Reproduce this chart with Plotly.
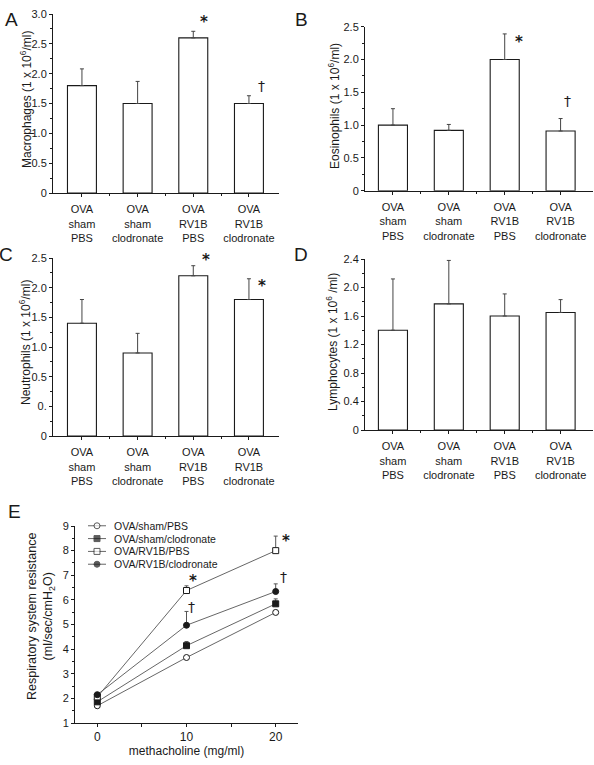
import plotly.graph_objects as go

W, H = 594, 765
FONT = "Liberation Sans, Arial, sans-serif"
INK = "#1a1a1a"

# ---------------- data ----------------
groups = ["OVA<br>sham<br>PBS", "OVA<br>sham<br>clodronate",
          "OVA<br>RV1B<br>PBS", "OVA<br>RV1B<br>clodronate"]

macrophages = [1.80, 1.50, 2.60, 1.50]
macrophages_err = [0.28, 0.37, 0.11, 0.13]

eosinophils = [1.00, 0.92, 2.00, 0.91]
eosinophils_err = [0.25, 0.09, 0.39, 0.19]

# neutrophil values read against the printed tick labels (axis baseline printed "0" sits at -0.5)
neutrophils = [1.40, 0.90, 2.20, 1.80]
neutrophils_err = [0.40, 0.33, 0.17, 0.35]
neutro_ticktext = ["0", "0.", "0.5", "1.0", "1.5", "2.0", "2.5"]
neutro_tickvals = [-0.5, 0.0, 0.5, 1.0, 1.5, 2.0, 2.5]
neutro_base = -0.5

lymphocytes = [1.40, 1.77, 1.60, 1.65]
lymphocytes_err = [0.72, 0.61, 0.31, 0.18]

methacholine = [0, 10, 20]
series_names = ["OVA/sham/PBS", "OVA/sham/clodronate", "OVA/RV1B/PBS", "OVA/RV1B/clodronate"]
resistance = {
    "OVA/sham/PBS": [1.70, 3.66, 5.49],
    "OVA/sham/clodronate": [1.86, 4.14, 5.84],
    "OVA/RV1B/PBS": [2.06, 6.38, 8.00],
    "OVA/RV1B/clodronate": [2.15, 4.97, 6.34],
}
resistance_err = {
    "OVA/sham/PBS": [0.05, 0.08, 0.08],
    "OVA/sham/clodronate": [0.06, 0.17, 0.20],
    "OVA/RV1B/PBS": [0.08, 0.19, 0.59],
    "OVA/RV1B/clodronate": [0.06, 0.56, 0.31],
}
marker_styles = {
    "OVA/sham/PBS": ("circle", "white"),
    "OVA/sham/clodronate": ("square", INK),
    "OVA/RV1B/PBS": ("square", "white"),
    "OVA/RV1B/clodronate": ("circle", INK),
}

# ---------------- helpers ----------------
def xd(a, b):
    return [a / W, b / W]

def yd(top, bottom):
    return [1 - bottom / H, 1 - top / H]

fig = go.Figure()

def add_bars(vals, errs, xa, ya, base=None):
    kw = {}
    yvals = vals
    if base is not None:
        yvals = [v - base for v in vals]
        kw["base"] = base
    fig.add_trace(go.Bar(
        x=list(range(len(vals))), y=yvals, width=0.52,
        marker=dict(color="white", line=dict(color=INK, width=1.1)),
        error_y=dict(type="data", array=errs, arrayminus=[0] * len(errs),
                     symmetric=False, color="#444", thickness=1, width=2),
        xaxis=xa, yaxis=ya, showlegend=False, hoverinfo="skip", **kw))

add_bars(macrophages, macrophages_err, "x", "y")
add_bars(eosinophils, eosinophils_err, "x2", "y2")
add_bars(neutrophils, neutrophils_err, "x3", "y3", base=neutro_base)
add_bars(lymphocytes, lymphocytes_err, "x4", "y4")

# panel E lines
for name in series_names:
    sym, fill = marker_styles[name]
    fig.add_trace(go.Scatter(
        x=methacholine, y=resistance[name], mode="lines+markers", name=name,
        line=dict(color="#555", width=0.9),
        marker=dict(symbol=sym, size=6, color=fill, line=dict(color=INK, width=1)),
        error_y=dict(type="data", array=resistance_err[name],
                     arrayminus=[0] * 3, symmetric=False,
                     color="#555", thickness=1, width=2),
        xaxis="x5", yaxis="y5", showlegend=False, hoverinfo="skip"))

# manual compact legend (legend axis uses the entry index as its scale)
for i, name in enumerate(series_names):
    sym, fill = marker_styles[name]
    fig.add_trace(go.Scatter(
        x=[0, 0.5, 1], y=[i, i, i], mode="lines+markers",
        line=dict(color="#555", width=0.9),
        marker=dict(symbol=sym, size=[0, 6, 0], color=fill,
                    line=dict(color=INK, width=[0, 1, 0])),
        xaxis="x6", yaxis="y6", showlegend=False, hoverinfo="skip"))

TICK_SIZE = 11
tickfont = dict(family=FONT, size=TICK_SIZE, color=INK)

def bar_xaxis(dom, rng, anchor):
    return dict(domain=dom, range=rng, tickvals=[0, 1, 2, 3], ticktext=groups, anchor=anchor,
                showline=True, linecolor=INK, linewidth=1, ticks="outside",
                ticklen=3, tickcolor=INK, tickfont=tickfont, ticklabelstandoff=3,
                minor=dict(tickvals=[0.5, 1.5, 2.5], ticklen=2, tickcolor=INK, ticks="outside"),
                showgrid=False, zeroline=False, fixedrange=True)

def bar_yaxis(dom, rng, tickvals, ticktext, minor_dtick, minor_tick0, anchor):
    return dict(domain=dom, range=rng, tickvals=tickvals, ticktext=ticktext,
                showline=True, linecolor=INK, linewidth=1, ticks="outside",
                ticklen=3, tickcolor=INK, tickfont=tickfont,
                minor=dict(dtick=minor_dtick, tick0=minor_tick0, ticklen=2, tickcolor=INK, ticks="outside"),
                showgrid=False, zeroline=False, anchor=anchor, fixedrange=True)

fig.update_layout(
    width=W, height=H, margin=dict(l=0, r=0, t=0, b=0, autoexpand=False),
    paper_bgcolor="white", plot_bgcolor="white",
    font=dict(family=FONT, color=INK),
    xaxis=bar_xaxis(xd(53, 279), [-0.52, 3.54], "y"),
    yaxis=bar_yaxis(yd(14, 193), [0, 3.0], [0, 0.5, 1.0, 1.5, 2.0, 2.5, 3.0],
                    ["0", "0.5", "1.0", "1.5", "2.0", "2.5", "3.0"], 0.25, 0, "x"),
    xaxis2=bar_xaxis(xd(365, 593), [-0.5, 3.58], "y2"),
    yaxis2=bar_yaxis(yd(26.7, 190.7), [0, 2.5], [0, 0.5, 1.0, 1.5, 2.0, 2.5],
                     ["0", "0.5", "1.0", "1.5", "2.0", "2.5"], 0.25, 0, "x2"),
    xaxis3=bar_xaxis(xd(53, 279), [-0.52, 3.54], "y3"),
    yaxis3=bar_yaxis(yd(258, 436), [-0.5, 2.5], neutro_tickvals, neutro_ticktext, 0.25, -0.5, "x3"),
    xaxis4=bar_xaxis(xd(365, 593), [-0.5, 3.58], "y4"),
    yaxis4=bar_yaxis(yd(259, 430), [0, 2.4], [0, 0.4, 0.8, 1.2, 1.6, 2.0, 2.4],
                     ["0", "0.4", "0.8", "1.2", "1.6", "2.0", "2.4"], 0.2, 0, "x4"),
    xaxis5=dict(domain=xd(75, 298), range=[-2.5, 22.5], anchor="y5",
                tickvals=[0, 10, 20], showline=True, linecolor=INK, linewidth=1,
                ticks="outside", ticklen=3, tickcolor=INK,
                tickfont=dict(family=FONT, size=12, color=INK),
                minor=dict(dtick=5, tick0=0, ticklen=3, tickcolor=INK, ticks="outside"),
                showgrid=False, zeroline=False, fixedrange=True,
                title=dict(text="methacholine (mg/ml)",
                           font=dict(family=FONT, size=12, color=INK), standoff=3)),
    yaxis5=dict(domain=yd(526, 723), range=[1, 9], anchor="x5",
                tickvals=list(range(1, 10)), showline=True, linecolor=INK, linewidth=1,
                ticks="outside", ticklen=3, tickcolor=INK, tickfont=tickfont,
                minor=dict(dtick=0.5, tick0=1, ticklen=2, tickcolor=INK, ticks="outside"),
                showgrid=False, zeroline=False, fixedrange=True),
    xaxis6=dict(domain=xd(88, 106), range=[0, 1], anchor="y6", visible=False, fixedrange=True),
    yaxis6=dict(domain=yd(520, 570), range=[3.45, -0.45], anchor="x6", visible=False, fixedrange=True),
)

ann = []
# legend text
for i, name in enumerate(series_names):
    ann.append(dict(text=name, x=1, y=i, xref="x6", yref="y6", xanchor="left", yanchor="middle",
                    xshift=6, showarrow=False, font=dict(family=FONT, size=10.5, color=INK)))

# y-axis titles
ytitle_font = dict(family=FONT, size=12, color=INK)
for txt, px, py in [
    ("Macrophages (1 x 10<sup>6</sup>/ml)", 26, 100),
    ("Eosinophils (1 x 10<sup>6</sup>/ml)", 334, 106),
    ("Neutrophils (1 x 10<sup>6</sup>/ml)", 25, 343),
    ("Lymphocytes (1 x 10<sup>6</sup> /ml)", 332, 342),
]:
    ann.append(dict(text=txt, x=px / W, y=1 - py / H, xref="paper", yref="paper",
                    xanchor="center", yanchor="middle",
                    textangle=-90, showarrow=False, font=ytitle_font))
ann.append(dict(text="Respiratory system resistance<br>(ml/sec/cmH<sub>2</sub>O)",
                x=41 / W, y=1 - 617 / H, xref="paper", yref="paper",
                xanchor="center", yanchor="middle",
                textangle=-90, showarrow=False, font=dict(family=FONT, size=12.5, color=INK)))

# panel letters
for L, px, py in [("A", 11, 19), ("B", 301, 19), ("C", 6, 255), ("D", 301, 255), ("E", 14, 512)]:
    ann.append(dict(text=L, x=px / W, y=1 - py / H, xref="paper", yref="paper",
                    xanchor="center", yanchor="middle",
                    showarrow=False, font=dict(family=FONT, size=19, color=INK)))

# significance marks
star = dict(family="DejaVu Sans", size=15, color=INK)
dag = dict(family="DejaVu Sans", size=14, color=INK)
marks = [
    ("<b>*</b>", "x", "y", 2.2, 2.86, star),
    ("†", "x", "y", 3.22, 1.80, dag),
    ("<b>*</b>", "x2", "y2", 2.26, 2.26, star),
    ("†", "x2", "y2", 3.13, 1.36, dag),
    ("<b>*</b>", "x3", "y3", 2.22, 2.46, star),
    ("<b>*</b>", "x3", "y3", 3.24, 2.02, star),
    ("<b>*</b>", "x5", "y5", 10.7, 6.75, star),
    ("<b>*</b>", "x5", "y5", 21.1, 8.4, star),
    ("†", "x5", "y5", 10.6, 5.72, dag),
    ("†", "x5", "y5", 20.9, 6.93, dag),
]
for t, xr, yr, x, y, f in marks:
    ann.append(dict(text=t, x=x, y=y, xref=xr, yref=yr, showarrow=False,
                    xanchor="center", yanchor="middle", font=f))

fig.update_layout(annotations=ann)
fig.write_html("out.html", config={"displayModeBar": False},
               post_script="document.body.style.margin='0';")
